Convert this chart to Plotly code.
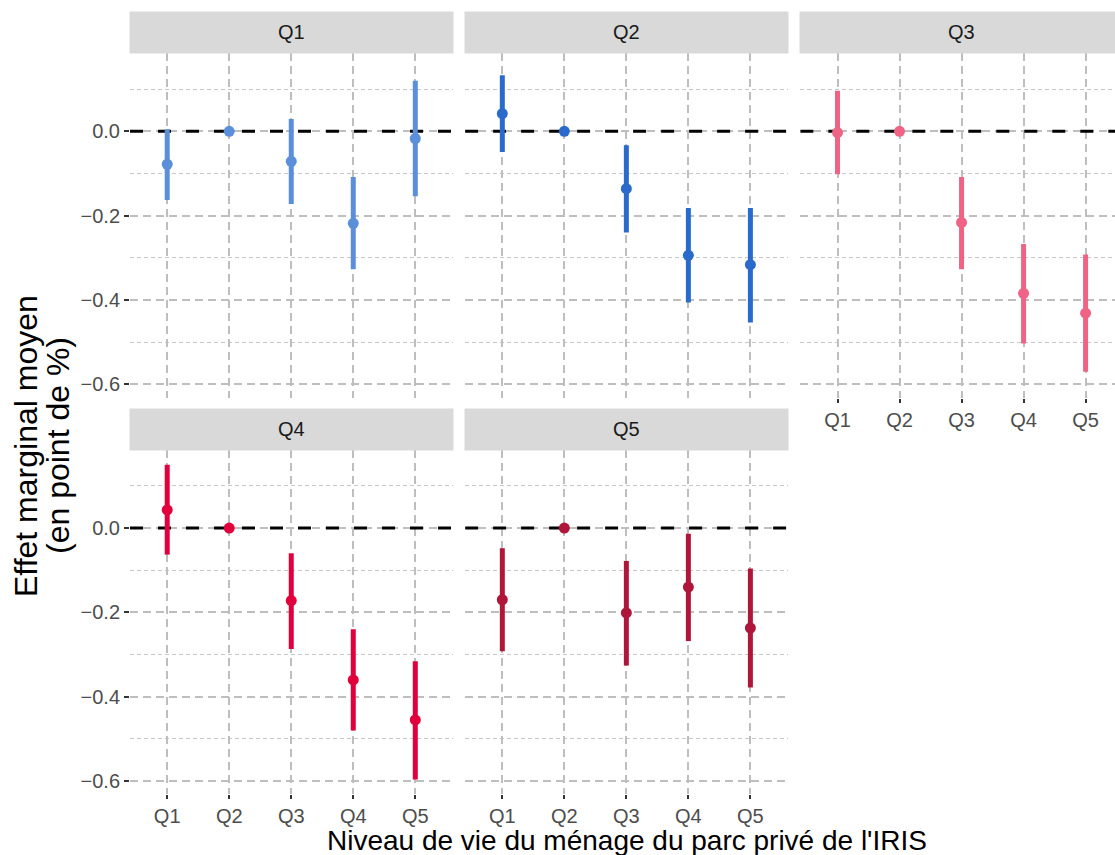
import plotly.graph_objects as go

# ---------------- data ----------------
categories = ["Q1", "Q2", "Q3", "Q4", "Q5"]
panels = ["Q1", "Q2", "Q3", "Q4", "Q5"]

est_q1 = [-0.078, 0.0, -0.071, -0.218, -0.017]
lo_q1 = [-0.163, 0.0, -0.172, -0.327, -0.154]
hi_q1 = [0.005, 0.0, 0.029, -0.108, 0.120]

est_q2 = [0.042, 0.0, -0.136, -0.294, -0.316]
lo_q2 = [-0.049, 0.0, -0.240, -0.406, -0.453]
hi_q2 = [0.133, 0.0, -0.033, -0.182, -0.182]

est_q3 = [-0.003, 0.0, -0.216, -0.384, -0.431]
lo_q3 = [-0.102, 0.0, -0.327, -0.503, -0.570]
hi_q3 = [0.096, 0.0, -0.108, -0.267, -0.292]

est_q4 = [0.043, 0.0, -0.172, -0.360, -0.455]
lo_q4 = [-0.063, 0.0, -0.287, -0.480, -0.596]
hi_q4 = [0.150, 0.0, -0.060, -0.240, -0.316]

est_q5 = [-0.170, 0.0, -0.201, -0.140, -0.237]
lo_q5 = [-0.292, 0.0, -0.326, -0.268, -0.378]
hi_q5 = [-0.048, 0.0, -0.078, -0.0135, -0.096]

ref_value = 0.0

colors = ["#5B8FD9", "#2A6ACB", "#EF6385", "#E2003C", "#AF1639"]

y_tickvals = [-0.6, -0.4, -0.2, 0.0]
y_ticktext = ["\u22120.6", "\u22120.4", "\u22120.2", "0.0"]
y_minor = [-0.5, -0.3, -0.1, 0.1]

y_title_lines = ["Effet marginal moyen", "(en point de %)"]
x_title = "Niveau de vie du m\u00e9nage du parc priv\u00e9 de l'IRIS"

# ---------------- layout geometry (pixels) ----------------
W, H = 1115, 855
FONT = "Liberation Sans, Arial, Helvetica, sans-serif"
col_left = [130.0, 465.1, 800.3]
panel_w = 322.5
row_top = [53.3, 450.0]
panel_h = 344.2
strip_h = 40.8
y_range = [-0.631, 0.185]

# discrete scale: category k sits at position k+1, padded by 0.6 on each side
cat_pos = [k + 1 for k in range(len(categories))]
x_range = [cat_pos[0] - 0.6, cat_pos[-1] + 0.6]

ests = [est_q1, est_q2, est_q3, est_q4, est_q5]
los = [lo_q1, lo_q2, lo_q3, lo_q4, lo_q5]
his = [hi_q1, hi_q2, hi_q3, hi_q4, hi_q5]


def px_x(v):
    return v / W


def px_y(v):
    return 1 - v / H


fig = go.Figure()
annotations = []
layout_axes = {}

for i, name in enumerate(panels):
    row, col = divmod(i, 3)
    n = "" if i == 0 else str(i + 1)
    left = col_left[col]
    right = min(left + panel_w, W)
    top = row_top[row]
    bottom = top + panel_h

    xr = list(x_range)
    if left + panel_w > W:
        xr[1] = x_range[0] + (W - left) / panel_w * (x_range[1] - x_range[0])

    # dashed reference line at zero, across the whole panel
    fig.add_trace(go.Scatter(
        x=xr, y=[ref_value, ref_value], mode="lines",
        line=dict(color="black", width=3, dash="13px,15px"),
        xaxis="x" + n, yaxis="y" + n, showlegend=False, hoverinfo="skip",
    ))

    est = ests[i]
    lo = los[i]
    hi = his[i]
    fig.add_trace(go.Scatter(
        x=cat_pos, y=est, mode="markers",
        marker=dict(size=11, color=colors[i]),
        error_y=dict(type="data", symmetric=False,
                     array=[h - e for h, e in zip(hi, est)],
                     arrayminus=[e - l for e, l in zip(est, lo)],
                     width=0, thickness=5, color=colors[i]),
        xaxis="x" + n, yaxis="y" + n, showlegend=False, hoverinfo="skip",
    ))

    show_x = i >= 2
    show_y = col == 0
    layout_axes["xaxis" + n] = dict(
        domain=[px_x(left), px_x(right)], anchor="y" + n,
        range=xr, tickvals=cat_pos, ticktext=categories,
        showgrid=True, gridcolor="#BEBEBE", gridwidth=1.6,
        griddash="8px,5px", zeroline=False, showline=False,
        showticklabels=show_x, ticks="outside" if show_x else "",
        ticklen=4, tickwidth=1.5, tickcolor="#333333",
        tickfont=dict(family=FONT, size=20, color="#4D4D4D"),
        fixedrange=True,
    )
    layout_axes["yaxis" + n] = dict(
        domain=[px_y(bottom), px_y(top)], anchor="x" + n,
        range=y_range, tickvals=y_tickvals, ticktext=y_ticktext,
        showgrid=True, gridcolor="#BEBEBE", gridwidth=1.6, griddash="8px,5px",
        minor=dict(tickvals=y_minor, showgrid=True, gridcolor="#C8C8C8",
                   gridwidth=1, griddash="4px,3px", ticks=""),
        zeroline=False, showline=False,
        showticklabels=show_y, ticks="outside" if show_y else "",
        ticklen=5, tickwidth=1.5, tickcolor="#333333",
        tickfont=dict(family=FONT, size=20, color="#4D4D4D"),
        fixedrange=True,
    )

    # facet strip (annotation box with fixed size and background)
    annotations.append(dict(text=name, xref="paper", yref="paper",
                            x=px_x(left + panel_w / 2), y=px_y(top - strip_h / 2),
                            xanchor="center", yanchor="middle", showarrow=False,
                            width=panel_w, height=strip_h, borderpad=0,
                            bgcolor="#D9D9D9", align="center", valign="middle",
                            font=dict(family=FONT, size=20, color="#1A1A1A")))

for line_text, cx in zip(y_title_lines, [26, 58]):
    annotations.append(dict(text=line_text, xref="paper", yref="paper",
                            x=px_x(cx), y=px_y(446), textangle=-90,
                            xanchor="center", yanchor="middle", showarrow=False,
                            font=dict(family=FONT, size=32, color="black")))
annotations.append(dict(text=x_title, xref="paper", yref="paper",
                        x=px_x(626.5), y=px_y(840), xanchor="center",
                        yanchor="middle", showarrow=False,
                        font=dict(family=FONT, size=28, color="black")))

fig.update_layout(
    width=W, height=H, margin=dict(l=0, r=0, t=0, b=0),
    paper_bgcolor="white", plot_bgcolor="white",
    annotations=annotations,
    font=dict(family=FONT),
    **layout_axes,
)

fig.write_html("out.html", config={"displayModeBar": False})
